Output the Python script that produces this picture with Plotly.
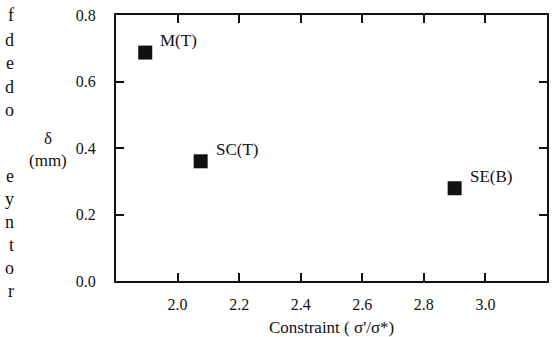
import plotly.graph_objects as go

# ---- data ----
specimens = ["M(T)", "SC(T)", "SE(B)"]
constraint = [1.895, 2.075, 2.90]
delta_mm = [0.687, 0.360, 0.279]

x_ticks = [2.0, 2.2, 2.4, 2.6, 2.8, 3.0]
y_ticks = [0.0, 0.2, 0.4, 0.6, 0.8]
x_title = "Constraint ( σ'/σ*)"
y_title = "δ<br>(mm)"

# stray fragments of the page text at the left edge
page_letters = ["f", "d", "e", "d", "o", "e", "y", "n", "t", "o", "r"]
page_rows_px = [15, 40, 63, 87, 110, 176, 199, 222, 245, 268, 291]

W, H = 553, 337
ML, MR, MT, MB = 116, 4, 15, 56
PW = W - ML - MR
PH = H - MT - MB

FONT = "Liberation Serif"
INK = "#111111"


def px_x(px):
    return (px - ML) / PW


def px_y(py):
    return 1 - (py - MT) / PH


fig = go.Figure()
fig.add_trace(go.Scatter(
    x=constraint, y=delta_mm, mode="markers",
    marker=dict(symbol="square", size=14, color=INK),
    showlegend=False, hoverinfo="skip",
))

annotations = []
for name, xv, yv in zip(specimens, constraint, delta_mm):
    annotations.append(dict(
        x=xv, y=yv, xref="x", yref="y", text=name, showarrow=False,
        xanchor="left", yanchor="middle", xshift=13, yshift=12,
        font=dict(family=FONT, size=17, color=INK),
    ))

# y-axis title (horizontal)
annotations.append(dict(
    x=px_x(48), y=px_y(149), xref="paper", yref="paper",
    text=y_title, showarrow=False, xanchor="center", yanchor="middle",
    font=dict(family=FONT, size=17, color=INK),
))

# x-axis title
annotations.append(dict(
    x=0.5, y=px_y(327), xref="paper", yref="paper",
    text=x_title, showarrow=False, xanchor="center", yanchor="middle",
    font=dict(family=FONT, size=17, color=INK),
))

for letter, ypx in zip(page_letters, page_rows_px):
    annotations.append(dict(
        x=px_x(16), y=px_y(ypx), xref="paper", yref="paper",
        text=letter, showarrow=False, xanchor="right", yanchor="middle",
        font=dict(family=FONT, size=18, color=INK),
    ))

axis_common = dict(
    showline=True, linecolor=INK, linewidth=2, mirror="ticks",
    ticks="inside", ticklen=8, tickwidth=2, tickcolor=INK,
    showgrid=False, zeroline=False,
    tickfont=dict(family=FONT, size=16, color=INK),
)

fig.update_layout(
    width=W, height=H,
    margin=dict(l=ML, r=MR, t=MT, b=MB),
    paper_bgcolor="white", plot_bgcolor="white",
    xaxis=dict(range=[1.8, 3.2], tickvals=x_ticks, tickformat=".1f",
               ticklabelstandoff=8, **axis_common),
    yaxis=dict(range=[0, 0.8], tickvals=y_ticks, tickformat=".1f",
               ticklabelstandoff=15, **axis_common),
    annotations=annotations,
)

fig.write_html(
    "out.html",
    config={"displayModeBar": False},
    post_script="document.body.style.margin='0';document.body.style.overflow='hidden';",
)
